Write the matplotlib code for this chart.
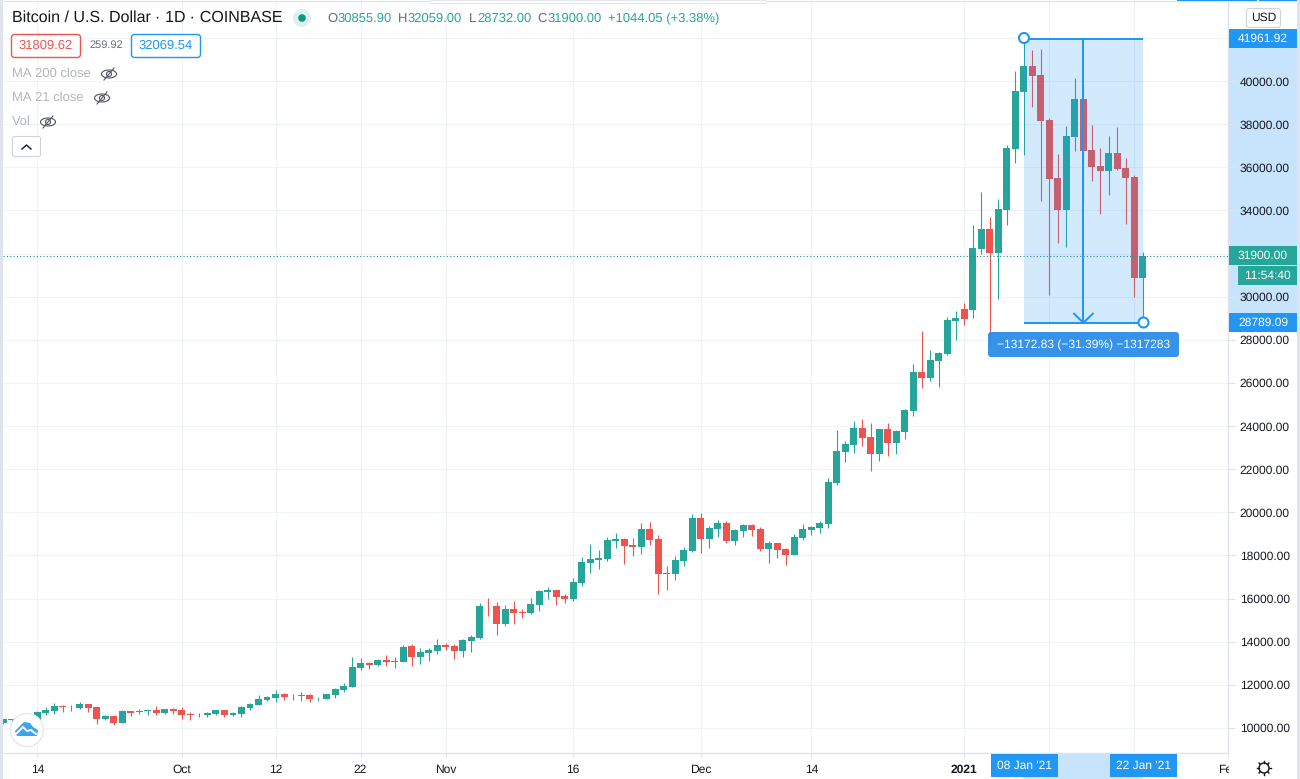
import matplotlib
matplotlib.use('Agg')
import matplotlib.pyplot as plt
import matplotlib.dates as mdates
import matplotlib.patches as mp
import numpy as np
import pandas as pd

plt.rcParams['font.family'] = ['Liberation Sans', 'DejaVu Sans']
plt.rcParams['text.hinting'] = 'no_hinting'
plt.rcParams['text.hinting_factor'] = 1

# daily candles
first_day = '2020-09-10'
opens = [10248, 10363, 10400, 10440, 10325, 10680, 10789, 11020, 10974, 10928, 11113, 10974, 10418, 10557, 10232,
         10789, 10727, 10789, 10835, 10696, 10881, 10835, 10650, 10603, 10588, 10650, 10835, 10603, 10650, 10928,
         11067, 11298, 11391, 11577, 11484, 11484, 11530, 11375, 11345, 11531, 11763, 11917, 12800, 13010, 12920,
         13150, 13060, 13075, 13800, 13290, 13478, 13570, 13849, 13800, 13570, 14034, 14173, 15656, 15656, 14822,
         15517, 15380, 15332, 15703, 16320, 16398, 16121, 15982, 16723, 17650, 17790, 17836, 18670, 18763, 18485,
         18392, 19226, 18763, 17187, 17141, 17743, 18207, 19736, 18763, 19226, 19504, 18670, 19134, 19412, 19226,
         18299, 18577, 18299, 18021, 18811, 19181, 19274, 19460, 21360, 22797, 23121, 23909, 23492, 22704, 23863,
         23214, 23724, 24697, 26505, 26227, 27015, 27339, 28868, 29425, 29379, 32210, 33137, 32025, 34018, 36845,
         39487, 40692, 40275, 38189, 35501, 34018, 37401, 39163, 36798, 36057, 35825, 36660, 35964, 35547, 30855.90]
highs = [10433, 10440, 10480, 10580, 10770, 10959, 11159, 11067, 11067, 11206, 11113, 11020, 10603, 10603, 10835,
         10789, 10881, 10835, 11020, 10881, 10928, 10974, 10727, 10680, 10742, 10835, 10835, 10742, 11020, 11159,
         11530, 11484, 11762, 11623, 11577, 11669, 11577, 11453, 11577, 11855, 12087, 13277, 13231, 13045, 13200,
         13385, 13277, 13849, 13895, 13710, 13710, 14127, 13941, 13895, 14127, 14312, 15795, 16027, 15842, 15703,
         15888, 15517, 16027, 16398, 16537, 16398, 16214, 16955, 17928, 18531, 18253, 18856, 19041, 18809, 18809,
         19504, 19551, 18948, 17511, 17975, 18392, 19922, 19968, 19365, 19643, 19597, 19226, 19458, 19458, 19319,
         18670, 18577, 18346, 18995, 19460, 19367, 19599, 21592, 23816, 23307, 24234, 24326, 24141, 23863, 24141,
         23816, 24790, 26876, 28405, 27525, 27432, 29054, 29332, 29703, 33322, 34852, 33693, 34527, 37030, 40460,
         42005, 41433, 41480, 38282, 36613, 37911, 40136, 39700, 37957, 36891, 37447, 37865, 36428, 35640, 32059.00]
lows = [10200, 10300, 10250, 10200, 10280, 10603, 10650, 10742, 10789, 10881, 10742, 10186, 10372, 10140, 10215,
        10557, 10650, 10603, 10603, 10650, 10650, 10418, 10372, 10495, 10510, 10603, 10510, 10557, 10510, 10835,
        11050, 11252, 11206, 11298, 11298, 11252, 11206, 11268, 11345, 11391, 11670, 11917, 12705, 12752, 12875,
        12875, 12783, 13060, 12875, 12968, 13107, 13432, 13617, 13200, 13292, 13524, 14127, 15193, 14312, 14729,
        14822, 15100, 15286, 15425, 15981, 15703, 15796, 15889, 16584, 17187, 17372, 17743, 18346, 17604, 17975,
        18068, 18485, 16214, 16399, 16862, 17511, 18180, 18114, 18346, 18856, 18577, 18485, 18856, 18902, 18207,
        17650, 17882, 17558, 18021, 18716, 18950, 19043, 19274, 21267, 22333, 22750, 23075, 21916, 22380, 22611,
        22704, 23399, 24465, 25763, 26088, 25810, 27293, 27987, 28683, 29008, 31978, 27683, 29893, 33322, 36196,
        36567, 38792, 34435, 30078, 32488, 32302, 36752, 34400, 35362, 33832, 34713, 35872, 33369, 29985, 28732.00]
closes = [10433, 10400, 10440, 10330, 10742, 10835, 11020, 10974, 10966, 11113, 10928, 10418, 10557, 10232, 10789,
          10696, 10789, 10835, 10696, 10881, 10789, 10603, 10588, 10588, 10711, 10835, 10603, 10696, 10974, 11113,
          11345, 11438, 11577, 11438, 11480, 11530, 11345, 11400, 11577, 11809, 11948, 12829, 13014, 12920, 13150,
          13060, 13090, 13756, 13292, 13524, 13617, 13849, 13756, 13570, 14080, 14220, 15656, 15640, 14822, 15517,
          15332, 15350, 15749, 16352, 16398, 16074, 15982, 16770, 17697, 17836, 17882, 18716, 18763, 18438, 18392,
          19226, 18716, 17141, 17141, 17789, 18253, 19736, 18763, 19273, 19504, 18670, 19180, 19412, 19180, 18299,
          18577, 18253, 18021, 18856, 19228, 19320, 19506, 21406, 22843, 23168, 23909, 23446, 22704, 23863, 23214,
          23770, 24743, 26505, 26227, 27061, 27386, 28915, 29007, 28961, 32256, 33137, 32025, 34064, 36891, 39533,
          40692, 40228, 38143, 35454, 34018, 37447, 39163, 36752, 36011, 35825, 36660, 35918, 35501, 30866, 31900.00]

price_ticks = list(range(10000, 44000, 2000))
hidden_prices = [32000, 42000]  # covered by the blue and green scale labels
time_ticks = ['2020-09-14', '2020-10-01', '2020-10-12', '2020-10-22', '2020-11-01', '2020-11-16', '2020-12-01',
              '2020-12-14', '2021-01-01', '2021-01-11', '2021-01-21', '2021-02-01']
time_labels = ['14', 'Oct', '12', '22', 'Nov', '16', 'Dec', '14', '2021', '', '', 'Feb']
range_top = 41961.92
range_bottom = 28789.09
range_start = '2021-01-08'
range_end = '2021-01-22'
last_price = 31900.00

UP = '#26A69A'
DOWN = '#EF5350'
BLUE = '#2196F3'
GRID = '#F0F3FA'
EDGE = '#E0E3EB'
TEXT = '#131722'
GREY = '#B2B5BE'

W, H = 1300, 779
fig = plt.figure(figsize=(13, 7.79), dpi=100, facecolor='white')

# pixel layers behind and in front of the chart
back = fig.add_axes([0, 0, 1, 1], zorder=0)
back.set_xlim(0, W)
back.set_ylim(H, 0)
back.axis('off')
back.add_patch(mp.Rectangle((1229, 38), 68, 284, color='#C8E4FC', lw=0))
back.add_patch(mp.Rectangle((1024, 754), 119, 25, color='#C8E4FC', lw=0))

ax = fig.add_axes([3 / W, (H - 753) / H, 1225 / W, 753 / H], zorder=1)
ax.patch.set_alpha(0)
days = mdates.date2num(pd.date_range(first_day, periods=len(closes), freq='D').to_pydatetime())
day0 = mdates.date2num(pd.Timestamp('2020-09-14').to_pydatetime())
ax.set_xlim(day0 - 34.5 / 8.53, day0 + 1190.5 / 8.53)
ax.set_ylim(10000 - 25 * 46.37, 10000 + 728 * 46.37)

o, h, l, c = map(np.array, (opens, highs, lows, closes))
colors = np.where(c >= o, UP, DOWN)
ax.vlines(days, l, h, colors=colors, lw=0.8, zorder=3)
bottoms = np.minimum(o, c)
heights = np.maximum(np.abs(c - o), 25)
ax.bar(days, heights, bottom=bottoms, width=0.82, color=colors, lw=0, zorder=4)

ax.set_yticks(price_ticks)
ax.set_yticklabels(['' if v in hidden_prices else '%.2f' % v for v in price_ticks])
ax.yaxis.tick_right()
ax.set_xticks(mdates.date2num(pd.to_datetime(time_ticks).to_pydatetime()))
ax.set_xticklabels(time_labels)
ax.tick_params(axis='y', length=5, width=0.8, color=EDGE, labelcolor=TEXT, labelsize=8.7, pad=3.5)
ax.tick_params(axis='x', length=3, width=0.8, color=EDGE, labelcolor=TEXT, labelsize=8.7, pad=5)
ax.get_xticklabels()[8].set_fontweight('bold')
ax.grid(True, color=GRID, lw=0.8, zorder=0)
ax.set_axisbelow(True)
for s in ['top', 'left']:
    ax.spines[s].set_visible(False)
for s in ['right', 'bottom']:
    ax.spines[s].set_color(EDGE)
    ax.spines[s].set_linewidth(1)

ax.axhline(last_price, color='#1E8E84', lw=0.8, ls=(0, (1, 2)), zorder=5)

# price range tool
x0 = mdates.date2num(pd.Timestamp(range_start).to_pydatetime())
x1 = mdates.date2num(pd.Timestamp(range_end).to_pydatetime())
ax.add_patch(mp.Rectangle((x0, range_bottom), x1 - x0, range_top - range_bottom, color=BLUE, alpha=0.2, lw=0, zorder=6))
ax.plot([x0, x1], [range_top, range_top], color=BLUE, lw=1.45, zorder=7, solid_capstyle='butt')
ax.plot([x0, x1], [range_bottom, range_bottom], color=BLUE, lw=1.45, zorder=7, solid_capstyle='butt')
xm = (x0 + x1) / 2
ax.plot([xm, xm], [range_top, range_bottom], color=BLUE, lw=1.45, zorder=7)
ax.plot([xm - 1.1, xm, xm + 1.1], [range_bottom + 420, range_bottom, range_bottom + 420], color=BLUE, lw=1.45, zorder=7)

# chrome on top
top = fig.add_axes([0, 0, 1, 1], zorder=2)
top.set_xlim(0, W)
top.set_ylim(H, 0)
top.axis('off')
top.patch.set_alpha(0)


def box(x, y, w, h, fc, ec='none', lw=0, r=0, alpha=None):
    if r:
        p = mp.FancyBboxPatch((x + r, y + r), w - 2 * r, h - 2 * r, boxstyle='round,pad=%g,rounding_size=%g' % (r, r),
                              fc=fc, ec=ec, lw=lw, alpha=alpha)
    else:
        p = mp.Rectangle((x, y), w, h, fc=fc, ec=ec, lw=lw, alpha=alpha)
    top.add_patch(p)


def label(x, y, s, color=TEXT, size=8.7, ha='left', **kw):
    return top.text(x, y, s, color=color, fontsize=size, ha=ha, va='center', **kw)


def eye(x, y):
    top.add_patch(mp.Ellipse((x, y), 15, 8, fc='none', ec='#50535E', lw=0.8))
    top.add_patch(mp.Circle((x, y), 2.5, fc='none', ec='#50535E', lw=0.8))
    top.plot([x - 5, x + 5], [y + 6, y - 6], color='#50535E', lw=0.8)


# edges
box(0, 0, 3, H, EDGE)
box(1297, 0, 3, H, EDGE)
box(3, 1, 1294, 1, EDGE)
box(1177, 0, 80, 1.2, BLUE)
box(1259, 0, 38, 1.2, BLUE)
box(430, 0, 336, 3, 'white', ec='#E6E8EE', lw=0.8)
box(1229, 754, 68, 25, 'white')

# legend block
label(12, 18, 'Bitcoin / U.S. Dollar · 1D · COINBASE', size=11.4)
top.add_patch(mp.Circle((302, 18), 9, fc='#DDF1EF', lw=0))
top.add_patch(mp.Circle((302, 18), 3.8, fc='#089981', lw=0))
label(327, 18.5, 'O', color='#6A6D78', size=9.4)
label(338, 18.5, '30855.90', color=UP, size=9.4)
label(398, 18.5, 'H', color='#6A6D78', size=9.4)
label(408, 18.5, '32059.00', color=UP, size=9.4)
label(469, 18.5, 'L', color='#6A6D78', size=9.4)
label(477, 18.5, '28732.00', color=UP, size=9.4)
label(537, 18.5, 'C', color='#6A6D78', size=9.4)
label(548, 18.5, '31900.00', color=UP, size=9.4)
label(608, 18.5, '+1044.05 (+3.38%)', color=UP, size=9.4)

box(11.5, 34.5, 69, 23, 'white', ec=DOWN, lw=1, r=3)
label(46, 46, '31809.62', color=DOWN, size=9.4, ha='center')
label(106, 45.5, '259.92', color='#6A6D78', size=8, ha='center')
box(131.5, 34.5, 69, 23, 'white', ec=BLUE, lw=1, r=3)
label(166, 46, '32069.54', color=BLUE, size=9.4, ha='center')

label(12, 74, 'MA 200 close', color=GREY, size=9.4)
eye(109, 74)
label(12, 98, 'MA 21 close', color=GREY, size=9.4)
eye(102, 98)
label(12, 122, 'Vol', color=GREY, size=9.4)
eye(48, 122)
box(12.5, 136.5, 28, 20, 'white', ec='#D1D4DC', lw=0.8, r=2)
top.plot([22, 26.5, 31], [149, 145, 149], color=TEXT, lw=1)

# logo
top.add_patch(mp.Circle((27, 730), 16.5, fc='white', ec='#E6E8EE', lw=1))
cloud = [(17, 736), (15, 731), (19, 727), (24, 722), (30, 723), (33, 727), (38, 730), (37, 736)]
top.add_patch(mp.Polygon(cloud, fc='#3BA5F0', lw=0))
top.plot([17, 23, 27, 31, 36], [733, 727, 731, 730, 734], color='white', lw=1.4)

# range handles and label
top.add_patch(mp.Circle((1024, 38), 5, fc='white', ec=BLUE, lw=1.5))
top.add_patch(mp.Circle((1143.5, 322.5), 5, fc='white', ec=BLUE, lw=1.5))
box(988, 332, 191, 25, '#2B8DE8', r=3, alpha=0.95)
label(1083.5, 345, '\u221213172.83 (\u221231.39%) \u22121317283', color='white', size=8.7, ha='center')

# price scale labels
box(1246.5, 8.5, 34, 19, 'white', ec='#D1D4DC', lw=0.8, r=3)
label(1263.5, 18, 'USD', size=8.7, ha='center')
box(1229, 29, 68, 19, BLUE)
label(1238, 38.5, '41961.92', color='white')
box(1229, 246, 68, 19, UP)
label(1238, 255.5, '31900.00', color='white')
box(1238, 266, 59, 19, UP)
label(1267.5, 275.5, '11:54:40', color='white', ha='center')
box(1229, 313, 68, 19, BLUE)
label(1238, 322.5, '28789.09', color='white')

# time scale labels
box(991, 754, 67, 23, BLUE)
label(1024.5, 765.5, "08 Jan '21", color='white', ha='center')
box(1110, 754, 67, 23, BLUE)
label(1143.5, 765.5, "22 Jan '21", color='white', ha='center')

# gear
top.add_patch(mp.Circle((1264, 768), 5, fc='white', ec=TEXT, lw=1))
for a in np.arange(0, 2 * np.pi, np.pi / 4):
    top.plot([1264 + 5 * np.cos(a), 1264 + 7 * np.cos(a)], [768 + 5 * np.sin(a), 768 + 7 * np.sin(a)], color=TEXT, lw=1)

fig.savefig('out.png', dpi=100)
